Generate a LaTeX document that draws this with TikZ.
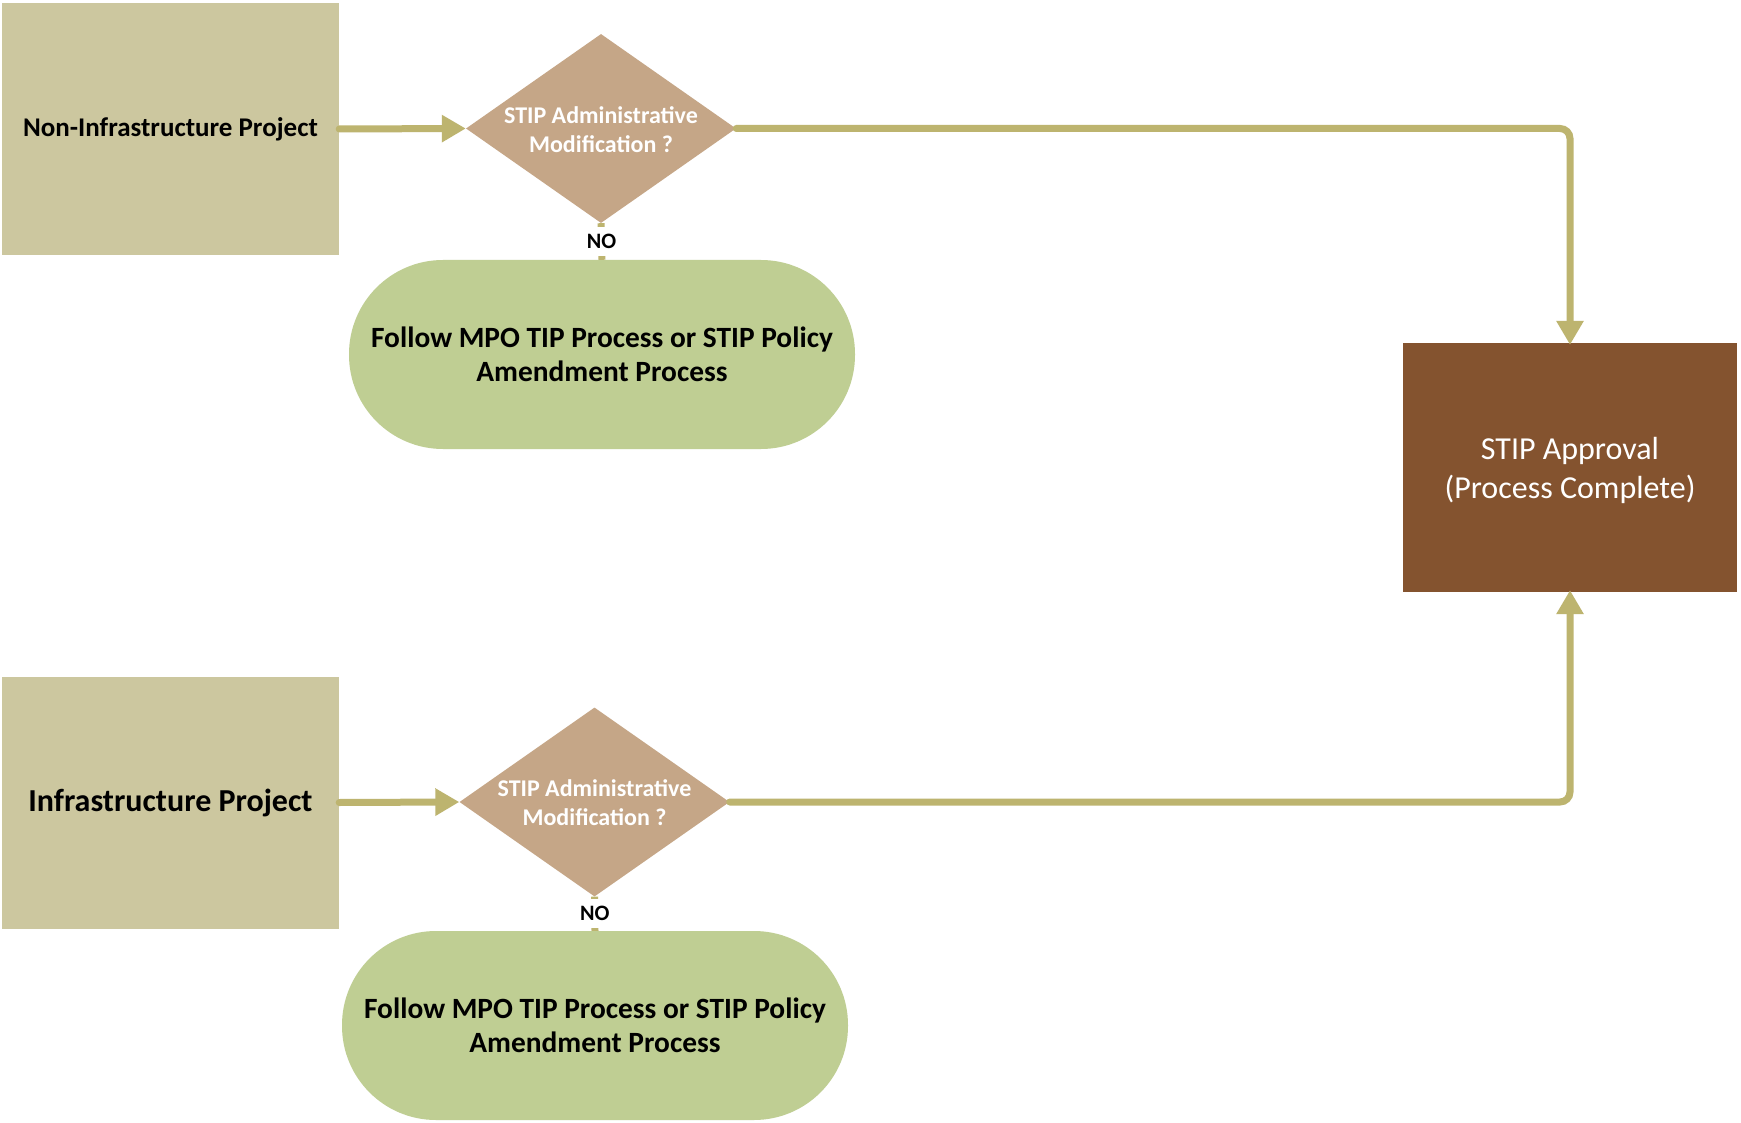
\documentclass[tikz,border=0pt]{standalone}
\usepackage{fontspec}
\setmainfont{Carlito}
\usetikzlibrary{shapes.geometric,arrows.meta}
\definecolor{boxtan}{HTML}{CCC79F}
\definecolor{diatan}{HTML}{C5A687}
\definecolor{ovalgreen}{HTML}{BFCE93}
\definecolor{stipbrown}{HTML}{84532F}
\definecolor{arrowcol}{HTML}{BDB46F}
\tikzset{
  projbox/.style={rectangle, fill=boxtan, minimum width=337pt, minimum height=252pt, inner sep=0pt, align=center},
  dia/.style={diamond, fill=diatan, minimum width=270pt, minimum height=189pt, inner sep=0pt},
  diatext/.style={text=white, font=\fontsize{24}{29}\selectfont\bfseries, align=center},
  oval/.style={rectangle, rounded corners=94pt, fill=ovalgreen, minimum width=506pt, minimum height=189pt, align=center, font=\fontsize{29.4}{34}\selectfont\bfseries},
  stipbox/.style={rectangle, fill=stipbrown, minimum width=334pt, minimum height=249pt, text=white, align=center, font=\fontsize{32}{39}\selectfont},
  conn/.style={draw=arrowcol, line width=7pt, line cap=round, rounded corners=10pt, -{Triangle[width=26pt,length=24pt]}},
  stub/.style={draw=arrowcol, line width=7pt},
  nolabel/.style={fill=white, font=\fontsize{22}{24}\selectfont\bfseries, inner xsep=2pt, inner ysep=7pt}
}
\begin{document}
\begin{tikzpicture}[x=1pt,y=-1pt]
\useasboundingbox[fill=white] (0,0) rectangle (1741,1123);
% nodes
\node[projbox, font=\fontsize{27}{30}\selectfont\bfseries] (p1) at (170.5,129) {Non-Infrastructure Project};
\node[projbox, font=\fontsize{32}{36}\selectfont\bfseries] (p2) at (170.5,802.5) {Infrastructure Project};
\node[dia] (d1) at (601,128.5) {};
\node[diatext, yshift=-1pt] (t1) at (d1.center) {STIP Administrative\\Modification ?};
\node[dia] (d2) at (594.5,802) {};
\node[diatext, yshift=-1pt] (t2) at (d2.center) {STIP Administrative\\Modification ?};
\node[oval] (o1) at (602,354.5) {Follow MPO TIP Process or STIP Policy\\Amendment Process};
\node[oval] (o2) at (595,1025.5) {Follow MPO TIP Process or STIP Policy\\Amendment Process};
\node[stipbox] (s) at (1570,467.5) {};
\node[text=white, align=center, font=\fontsize{32}{39}\selectfont, yshift=-3pt] (st) at (s.center) {STIP Approval\\(Process Complete)};
% connectors
\draw[conn] (p1.east) -- (d1.west);
\draw[conn] (p2.east) -- (d2.west);
\draw[conn] (d1.east) -| ([yshift=-2pt]s.north);
\draw[conn] (d2.east) -| ([yshift=2pt]s.south);
\draw[stub] (d1.south) -- (o1.north) node[nolabel, pos=0.5] (n1) {NO};
\draw[stub] (d2.south) -- (o2.north) node[nolabel, pos=0.5] (n2) {NO};
\end{tikzpicture}
\end{document}
